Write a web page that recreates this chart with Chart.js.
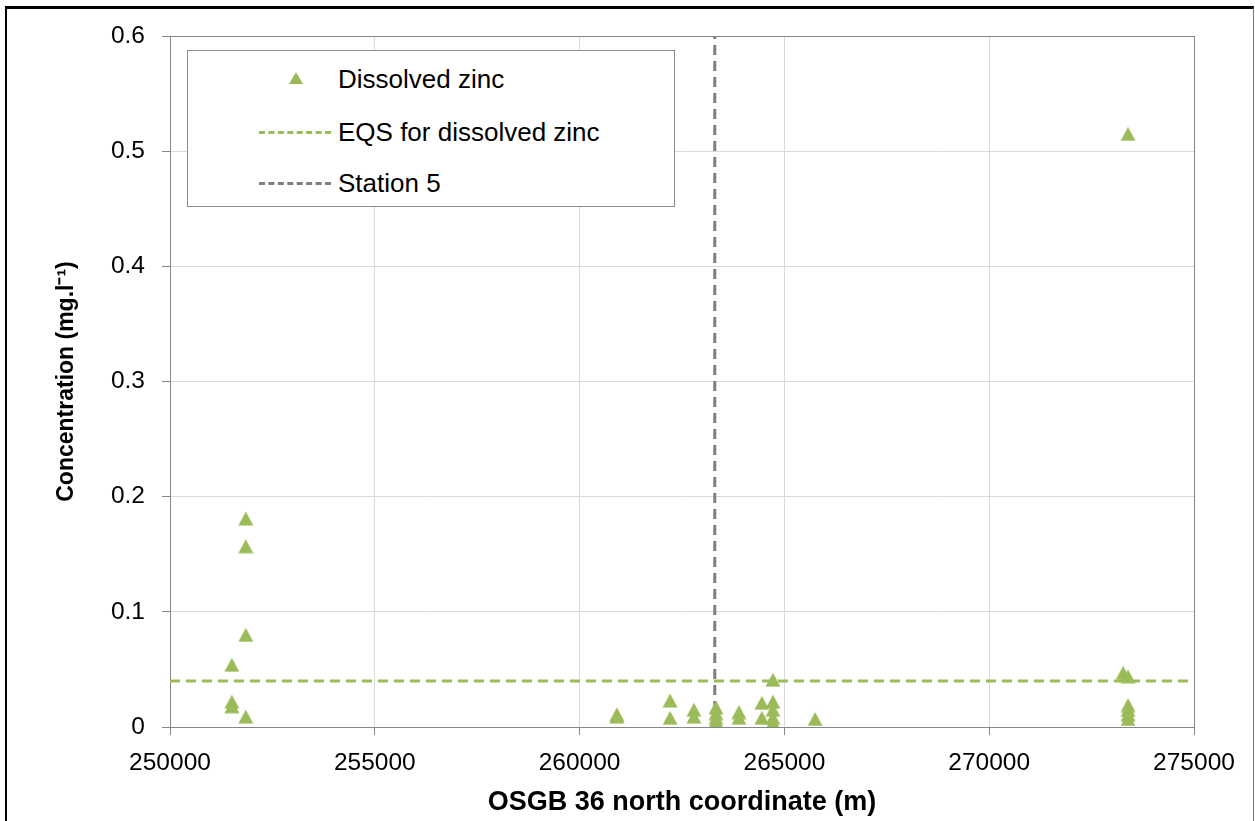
<!DOCTYPE html>
<html>
<head>
<meta charset="utf-8">
<script src="https://cdn.jsdelivr.net/npm/chart.js@4/dist/chart.umd.min.js"></script>
<style>
  body { margin: 0; background: #fff; font-family: "Liberation Sans", Arial, sans-serif; }
  #wrap { position: relative; width: 1255px; height: 821px; overflow: hidden; }
  #frame { position: absolute; left: 5px; top: 6px; width: 1246px; height: 900px;
           border-left: 2px solid #000; border-top: 3px solid #000; border-right: 1px solid #777; }
  #chart { position: absolute; left: 0; top: 0; }
  #legend { position: absolute; left: 187px; top: 50px; width: 486px; height: 155px;
            border: 1px solid #8c8c8c; background: #fff; }
  .row { position: absolute; left: 0; height: 30px; font-size: 26px; color: #000; }
  .row span { position: absolute; left: 150px; top: 0; line-height: 30px; white-space: nowrap; }
  .sample { position: absolute; left: 71px; width: 72px; top: 14px; height: 0; }
  .tri { position: absolute; left: 101px; top: 8px; width: 0; height: 0;
         border-left: 7px solid transparent; border-right: 7px solid transparent; border-bottom: 12px solid #9bbb59; }
</style>
</head>
<body>
<div id="wrap">
  <canvas id="chart" width="1255" height="821"></canvas>
  <div id="frame"></div>
  <div id="legend"></div>
</div>
<script>
// dissolved zinc samples: north coordinate (m) and concentration (mg/l)
const zincX = [251850, 251850, 251850, 251510, 251510, 251510, 251850,
  260910, 260910, 262210, 262210, 262790, 262790,
  263330, 263330, 263330, 263330, 263330,
  263890, 263890, 264450, 264450,
  264720, 264720, 264720, 264720, 264720, 264720, 265750,
  273270, 273390, 273390, 273390, 273390, 273390, 273390];
const zincY = [0.181, 0.157, 0.080, 0.054, 0.022, 0.018, 0.009,
  0.011, 0.009, 0.023, 0.008, 0.015, 0.009,
  0.017, 0.012, 0.008, 0.005, 0.003,
  0.013, 0.008, 0.021, 0.008,
  0.041, 0.022, 0.015, 0.008, 0.004, 0.002, 0.007,
  0.047, 0.044, 0.019, 0.015, 0.011, 0.007, 0.515];

const eqsLimit = 0.04;
const station5 = 263300;
const xRange = [250000, 275000];
const yRange = [0, 0.6];
const labels = ['Dissolved zinc', 'EQS for dissolved zinc', 'Station 5'];

const green = '#9bbb59';
const grey = '#7f7f7f';
const axisGrey = '#868686';

const zincPoints = zincX.map((x, i) => ({ x: x, y: zincY[i] }));

// triangle marker centred on its box, like the spreadsheet marker
const tri = document.createElement('canvas');
tri.width = 16; tri.height = 15;
const tc = tri.getContext('2d');
tc.fillStyle = green;
tc.beginPath();
tc.moveTo(8, 0.5);
tc.lineTo(15.5, 14.5);
tc.lineTo(0.5, 14.5);
tc.closePath();
tc.fill();

new Chart(document.getElementById('chart'), {
  type: 'scatter',
  data: {
    datasets: [{
      label: labels[0],
      data: zincPoints,
      pointStyle: tri,
      pointRadius: 8,
      backgroundColor: green,
      borderColor: green,
      borderWidth: 0,
      order: 1
    }, {
      label: labels[1],
      type: 'line',
      data: [{ x: xRange[0], y: eqsLimit }, { x: xRange[1], y: eqsLimit }],
      borderColor: green,
      borderWidth: 3,
      borderDash: [10, 6],
      pointRadius: 0,
      order: 2
    }, {
      label: labels[2],
      type: 'line',
      data: [{ x: station5, y: yRange[0] }, { x: station5, y: yRange[1] }],
      borderColor: grey,
      borderWidth: 3,
      borderDash: [10, 6],
      pointRadius: 0,
      order: 3
    }]
  },
  options: {
    responsive: false,
    animation: false,
    layout: { padding: { top: 36, right: 61, left: 0, bottom: 0 } },
    plugins: { legend: { display: false }, tooltip: { enabled: false } },
    scales: {
      x: {
        type: 'linear',
        min: xRange[0], max: xRange[1],
        afterFit: s => { s.height = 94; },
        ticks: { stepSize: 5000, padding: 14, color: '#000', font: { size: 24.5, family: 'Liberation Sans' },
                 callback: v => String(v) },
        grid: { color: c => c.tick && c.tick.value === xRange[1] ? axisGrey : '#d9d9d9',
                tickColor: axisGrey, tickLength: 8 },
        border: { color: axisGrey, width: 1 },
        title: { display: true, text: 'OSGB 36 north coordinate (m)', color: '#000',
                 font: { size: 27, weight: 'bold', family: 'Liberation Sans' }, padding: { top: 0, bottom: 2 } }
      },
      y: {
        min: yRange[0], max: yRange[1],
        afterFit: s => { s.width = 170; },
        ticks: { stepSize: 0.1, padding: 17, color: '#000', font: { size: 24.5, family: 'Liberation Sans' },
                 callback: v => v === 0 ? '0' : Number(v.toFixed(1)).toString() },
        grid: { color: c => c.tick && c.tick.value === yRange[1] ? axisGrey : '#d9d9d9',
                tickColor: axisGrey, tickLength: 8 },
        border: { color: axisGrey, width: 1 },
        title: { display: true, text: 'Concentration (mg.l\u207B\u00B9)', color: '#000',
                 font: { size: 23, weight: 'bold', family: 'Liberation Sans' }, padding: { top: 53, bottom: 0 } }
      }
    }
  }
});

// legend built from the dataset labels
const legend = document.getElementById('legend');
const rowTops = [13, 66, 117];
labels.forEach((name, i) => {
  const row = document.createElement('div');
  row.className = 'row';
  row.style.top = rowTops[i] + 'px';
  let mark = '';
  if (i === 0) mark = '<div class="tri"></div>';
  else mark = '<div class="sample" style="border-top:3px dashed ' + (i === 1 ? green : grey) + '"></div>';
  row.innerHTML = mark + '<span>' + name + '</span>';
  legend.appendChild(row);
});
</script>
</body>
</html>
